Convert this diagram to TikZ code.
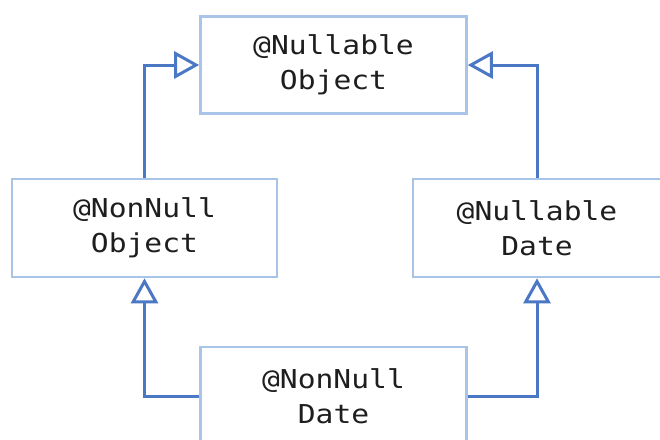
\documentclass[tikz,border=0pt]{standalone}
\usepackage{fontspec}
\setmonofont[FakeStretch=1.14]{DejaVu Sans Mono}
\usetikzlibrary{arrows.meta}
\definecolor{boxline}{RGB}{168,196,232}
\definecolor{conn}{RGB}{74,120,196}
\definecolor{txt}{RGB}{30,30,30}
\begin{document}
\begin{tikzpicture}[x=1pt,y=-1pt,
  cls/.style={draw=boxline, line width=2.6pt, fill=white, inner sep=0pt,
    align=center, text=txt, font=\ttfamily\fontsize{26}{35}\selectfont},
  gen/.style={draw=conn, line width=3pt,
    -{Triangle[open, width=27pt, length=25pt, fill=white, line width=3pt]}}]
\useasboundingbox (0,0) rectangle (660,439);
\clip (0,0) rectangle (660,439);
\fill[white] (0,0) rectangle (660,439);
\node[cls, minimum width=266pt, minimum height=97pt] (top) at (333.5,65) {@Nullable\\Object};
\node[cls, minimum width=265pt, minimum height=98pt] (left) at (144.5,228) {@NonNull\\Object};
\node[cls, minimum width=248pt, minimum height=98pt] (right) at (537,228) {@Nullable\\Date};
\node[cls, minimum width=266pt, minimum height=98pt] (bottom) at (333.5,396) {@NonNull\\Date};
\draw[gen] (left.north) |- (top.west);
\draw[gen] (right.north) |- (top.east);
\draw[gen] (bottom.west) -| (left.south);
\draw[gen] (bottom.east) -| (right.south);
\end{tikzpicture}
\end{document}
